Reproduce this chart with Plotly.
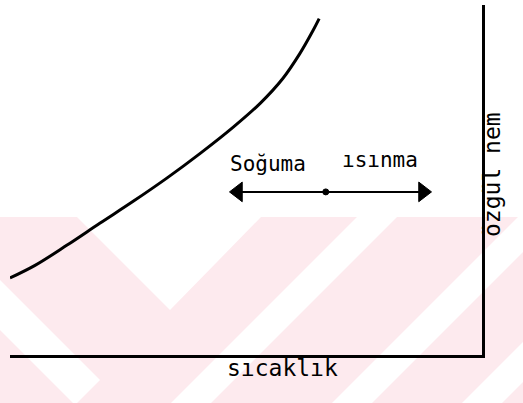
import plotly.graph_objects as go

# schematic psychrometric sketch, both axes in arbitrary units 0-100
# saturation curve
curve_t = [0, 5.3, 12.1, 19.1, 26.1, 33.3, 40.3, 47.3, 53.0, 57.8, 61.4, 64.2, 65.5]
curve_w = [22.0, 25.6, 31.4, 37.7, 43.9, 50.6, 57.6, 65.1, 71.9, 79.0, 86.1, 92.7, 96.1]

# sensible cooling / heating process (constant specific humidity)
process_t = [48.3, 66.9, 87.5]
process_w = [46.6, 46.6, 46.6]
process_symbols = ['triangle-left', 'circle', 'triangle-right']
process_sizes = [17, 6, 17]

process_labels = ['Soğuma', 'ısınma']
label_t = [54.7, 78.4]
label_w = [54.6, 55.7]

x_title = 'sıcaklık'
y_title = 'özgül nem'

# page geometry (px)
W, H = 523, 403
ML, MR, MT, MB = 10, 41, 5, 48
PW = W - ML - MR
PH = H - MT - MB

PINK = '#fdeaee'
FONT = 'DejaVu Sans Mono'


def paper_path(pts):
    """pixel polygon -> svg path in paper coordinates"""
    out = ''
    for i, (px, py) in enumerate(pts):
        xp = (px - ML) / PW
        yp = (H - MB - py) / PH
        out += ('M' if i == 0 else 'L') + f'{xp:.4f},{yp:.4f}'
    return out + 'Z'


# faint background watermark (pink field with white diagonal cut-outs)
watermark = [
    (PINK, [(0, 217), (W, 217), (W, H), (0, H)]),
    ('white', [(77, 217), (261, 217), (170, 310)]),
    ('white', [(0, 280), (100, 380), (77, 403), (73, 403), (0, 330)]),
    ('white', [(357, 217), (397, 217), (211, 403), (171, 403)]),
    ('white', [(518, 217), (558, 217), (372, 403), (332, 403)]),
    ('white', [(648, 217), (688, 217), (502, 403), (462, 403)]),
]
shapes = [
    dict(type='path', xref='paper', yref='paper', path=paper_path(p),
         fillcolor=c, line=dict(width=0), layer='below')
    for c, p in watermark
]

fig = go.Figure()

fig.add_trace(go.Scatter(
    x=curve_t, y=curve_w,
    mode='lines',
    line=dict(color='black', width=3, shape='spline', smoothing=1),
    hoverinfo='skip',
))

fig.add_trace(go.Scatter(
    x=process_t, y=process_w,
    mode='lines+markers',
    line=dict(color='black', width=2),
    marker=dict(symbol=process_symbols, size=process_sizes, color='black',
                opacity=1, line=dict(color='black', width=1)),
    hoverinfo='skip',
))

for txt, t, w in zip(process_labels, label_t, label_w):
    fig.add_annotation(x=t, y=w, text=txt, showarrow=False,
                       font=dict(family=FONT, size=21, color='black'))

fig.add_annotation(x=(282 - ML) / PW, y=(H - MB - 383) / PH, xref='paper', yref='paper',
                   text=x_title, showarrow=False,
                   font=dict(family=FONT, size=23, color='black'))
fig.add_annotation(x=(507 - ML) / PW, y=(H - MB - 175) / PH, xref='paper', yref='paper',
                   text=y_title, showarrow=False, textangle=-90,
                   font=dict(family=FONT, size=23, color='black'))

fig.update_layout(
    width=W, height=H,
    margin=dict(l=ML, r=MR, t=MT, b=MB),
    paper_bgcolor='white',
    plot_bgcolor='rgba(0,0,0,0)',
    showlegend=False,
    shapes=shapes,
    xaxis=dict(range=[0, 100], showgrid=False, zeroline=False, showticklabels=False,
               ticks='', showline=True, linecolor='black', linewidth=3),
    yaxis=dict(range=[0, 100], side='right', showgrid=False, zeroline=False,
               showticklabels=False, ticks='', showline=True, linecolor='black', linewidth=3),
)

# drop the default page margin so the figure sits at the window origin
fig.write_html('out.html', config={'displayModeBar': False},
               post_script="document.body.style.margin='0';")
